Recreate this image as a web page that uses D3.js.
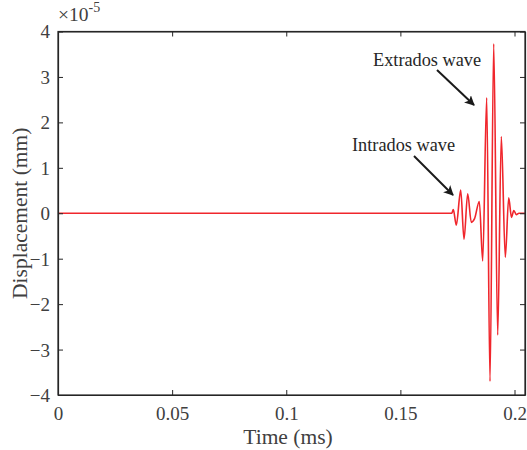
<!DOCTYPE html>
<html>
<head>
<meta charset="utf-8">
<script src="https://cdn.jsdelivr.net/npm/d3@7"></script>
<style>
  html, body { margin: 0; padding: 0; background: #fff; }
  svg text { font-family: "Liberation Serif", "Times New Roman", serif; fill: #404040; }
</style>
</head>
<body>
<svg id="chart" width="527" height="450"></svg>
<script>
// Data (time in ms, displacement in units of 1e-5 mm)
const times = [0, 0.1700, 0.1725, 0.17319, 0.17450, 0.17643, 0.17788, 0.17950, 0.18107, 0.18250, 0.18458,
               0.18607, 0.18782, 0.18927, 0.19089, 0.19264, 0.19422, 0.19597, 0.19746, 0.19869,
               0.19970, 0.20079, 0.20197, 0.2046];
const values = [0, 0, 0, 0.08, -0.26, 0.51, -0.57, 0.43, -0.20, -0.12, 0.26,
                -1.05, 2.54, -3.70, 3.73, -2.68, 1.69, -0.97, 0.34, -0.09,
                0.06, -0.03, 0, 0];
const xTicks = [0, 0.05, 0.1, 0.15, 0.2];
const xTickLabels = ["0", "0.05", "0.1", "0.15", "0.2"];
const yTicks = [-4, -3, -2, -1, 0, 1, 2, 3, 4];
const yTickLabels = ["\u22124", "\u22123", "\u22122", "\u22121", "0", "1", "2", "3", "4"];
const annotations = [
  { text: "Extrados wave", tx: 373, ty: 66, x1: 437, y1: 70, x2: 474, y2: 105 },
  { text: "Intrados wave", tx: 352, ty: 151, x1: 414, y1: 156, x2: 453, y2: 195 }
];

const svg = d3.select("#chart");
const L = 58, R = 525, T = 31.5, B = 395;
const x = d3.scaleLinear().domain([0, 0.2046]).range([L, R]);
const y = d3.scaleLinear().domain([-4, 4]).range([B, T]);

const axisColor = "#262626";

// Line
const data = times.map((t, i) => [t, values[i]]);
const line = d3.line().x(d => x(d[0])).y(d => y(d[1])).curve(d3.curveMonotoneX);
svg.append("path").datum(data)
  .attr("d", line)
  .attr("fill", "none")
  .attr("stroke", "#f0262c")
  .attr("stroke-width", 1.6)
  .attr("stroke-linejoin", "round");

// Axes (ticks inward)
const tickLen = 5;
const gB = svg.append("g").attr("transform", `translate(0,${B})`)
  .call(d3.axisBottom(x).tickValues(xTicks).tickSizeInner(-tickLen).tickSizeOuter(0).tickFormat((d, i) => xTickLabels[i]));
const gT = svg.append("g").attr("transform", `translate(0,${T})`)
  .call(d3.axisTop(x).tickValues(xTicks).tickSizeInner(-tickLen).tickSizeOuter(0).tickFormat(""));
const gL = svg.append("g").attr("transform", `translate(${L},0)`)
  .call(d3.axisLeft(y).tickValues(yTicks).tickSizeInner(-tickLen).tickSizeOuter(0).tickFormat((d, i) => yTickLabels[i]));
const gR = svg.append("g").attr("transform", `translate(${R},0)`)
  .call(d3.axisRight(y).tickValues(yTicks).tickSizeInner(-tickLen).tickSizeOuter(0).tickFormat(""));

[gB, gT, gL, gR].forEach(g => {
  g.select(".domain").attr("stroke", axisColor).attr("stroke-width", 1.2);
  g.selectAll(".tick line").attr("stroke", axisColor).attr("stroke-width", 1);
  g.selectAll("text").attr("font-family", "Liberation Serif, serif").attr("font-size", 19).attr("fill", "#404040");
});
gB.selectAll("text").attr("dy", null).attr("y", 25);
gL.selectAll("text").attr("x", -8).attr("dy", "0.34em");

// Frame
svg.append("rect").attr("x", L).attr("y", T).attr("width", R - L).attr("height", B - T)
  .attr("fill", "none").attr("stroke", axisColor).attr("stroke-width", 1.2);

// Exponent label
const ex = svg.append("text").attr("x", 58).attr("y", 21).attr("font-size", 19.5);
ex.append("tspan").text("\u00d710");
ex.append("tspan").attr("font-size", 14).attr("dy", -9).text("-5");

// Axis titles
svg.append("text").attr("x", 288).attr("y", 444).attr("text-anchor", "middle")
  .attr("font-size", 21.5).text("Time (ms)");
svg.append("text").attr("transform", `translate(27,${(T + B) / 2}) rotate(-90)`)
  .attr("text-anchor", "middle").attr("font-size", 21.5).text("Displacement (mm)");

// Annotations
const defs = svg.append("defs");
defs.append("marker").attr("id", "arr").attr("viewBox", "0 0 10 10")
  .attr("refX", 9).attr("refY", 5).attr("markerWidth", 10).attr("markerHeight", 10)
  .attr("markerUnits", "userSpaceOnUse").attr("orient", "auto")
  .append("path").attr("d", "M0,0 L10,5 L0,10 L2.5,5 Z").attr("fill", "#1a1a1a");

annotations.forEach(a => {
  svg.append("text").attr("x", a.tx).attr("y", a.ty).attr("font-size", 18.3).style("fill", "#262626").text(a.text);
  svg.append("line").attr("x1", a.x1).attr("y1", a.y1).attr("x2", a.x2).attr("y2", a.y2)
    .attr("stroke", "#1a1a1a").attr("stroke-width", 2).attr("marker-end", "url(#arr)");
});
</script>
</body>
</html>
